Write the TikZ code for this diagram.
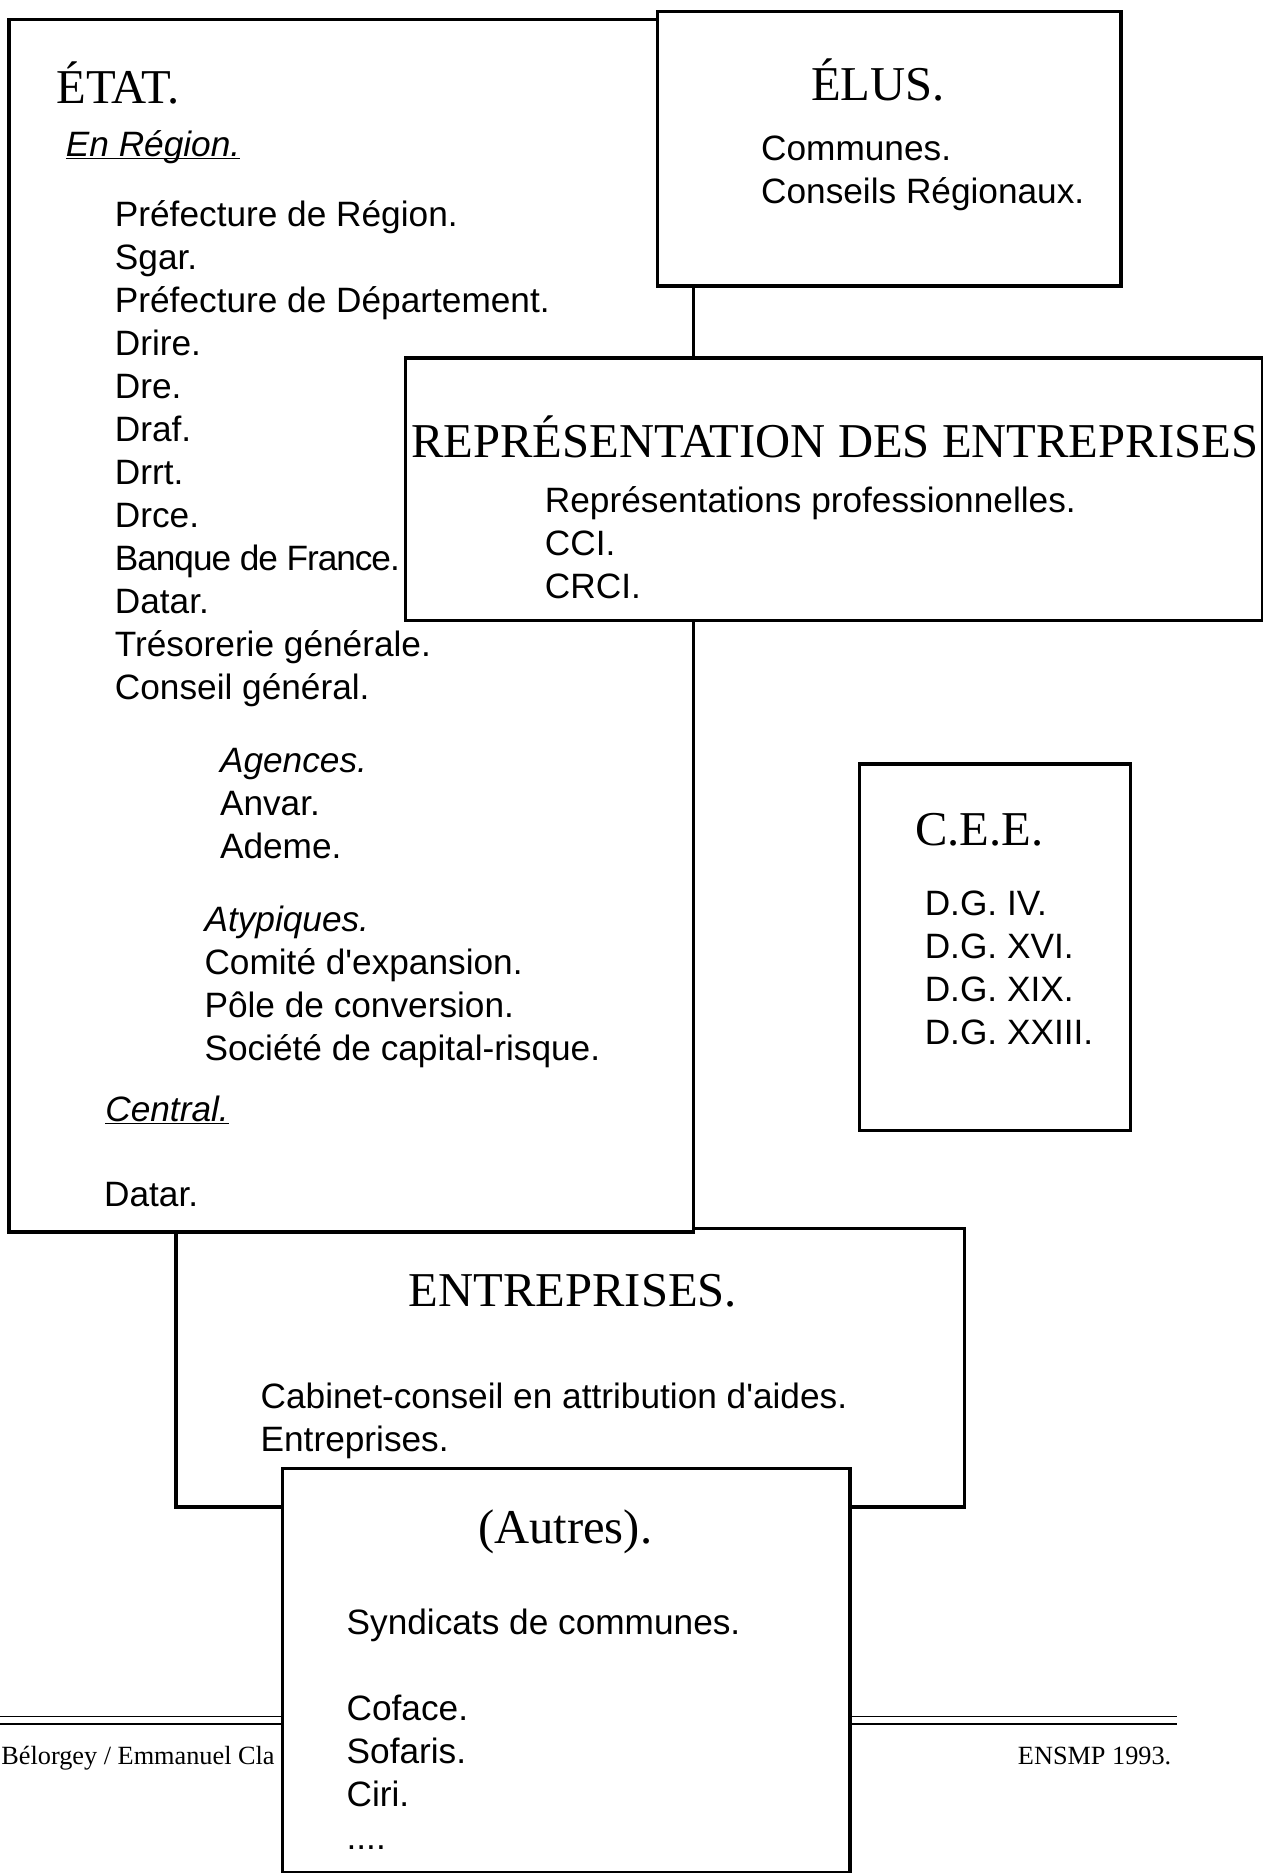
\documentclass[tikz,border=0pt]{standalone}
\usepackage{fontspec}
\setmainfont{Liberation Serif}
\setsansfont{Liberation Sans}[Ligatures=TeXOff]
\newcommand{\titrefont}{\rmfamily\fontsize{40.7}{48}\selectfont}
\newcommand{\listefont}{\sffamily\fontsize{29.5}{36}\selectfont}
\newcommand{\piedfont}{\rmfamily\fontsize{22}{26}\selectfont}
\newcommand{\souligne}[1]{\underline{\smash{#1}}}
\newcommand{\serre}[1]{{\addfontfeature{LetterSpace=-3}#1}}
\tikzset{
    cadre/.style = {rectangle, draw=black, line width=3pt, fill=white,
        anchor=north west, inner sep=0pt},
    titre/.style = {anchor=base west, inner sep=0pt, font=\titrefont},
    % listes : placees par la ligne de base de leur derniere ligne
    liste/.style = {anchor=base west, inner sep=0pt, align=left, font=\listefont},
    pied/.style = {anchor=base west, inner sep=0pt, font=\piedfont},
    filet/.style = {line width=1.5pt, draw=black}
}

\begin{document}
\begin{tikzpicture}[x=1pt, y=-1pt]
\useasboundingbox (0,0) rectangle (1057,1568);
% Pied de page
\coordinate (filetg) at (0,1437);
\coordinate (filetd) at (985,1437);
\draw[filet] (filetg) -- (filetd);
\draw[filet] ([yshift=-6pt]filetg) -- ([yshift=-6pt]filetd);
\node[pied] (auteurs) at (1,1477) {Bélorgey / Emmanuel Cla};
\node[pied] (ensmp) at (852,1477) {ENSMP 1993.};
% Entreprises
\node[cadre, minimum width=660pt, minimum height=233pt] (entr) at (146,1027) {};
\node[titre] (entrtitre) at (342,1094) {ENTREPRISES.};
\node[liste] (entrliste) at (218,1215) {Cabinet-conseil en attribution d'aides.\\Entreprises.};
% Etat
\node[cadre, minimum width=573pt, minimum height=1015pt] (etat) at (6,15) {};
\node[titre] (etattitre) at (47,87) {ÉTAT.};
\node[liste] (enregion) at (55,131) {\souligne{\itshape En Région.}};
\node[liste] (regional) at (96,586) {Préfecture de Région.\\Sgar.\\Préfecture de Département.\\
Drire.\\Dre.\\Draf.\\Drrt.\\Drce.\\\serre{Banque de France.}\\Datar.\\Trésorerie générale.\\Conseil général.};
\node[liste] (agences) at (184,719) {\textit{Agences.}\\Anvar.\\Ademe.};
\node[liste] (atypiques) at (171,888) {\textit{Atypiques.}\\Comité d'expansion.\\Pôle de conversion.\\
Société de capital-risque.};
\node[liste] (central) at (88,939) {\souligne{\itshape Central.}};
\node[liste] (datar) at (87,1010) {Datar.};
% Elus
\node[cadre, minimum width=388pt, minimum height=230pt] (elus) at (549,8) {};
\node[titre, anchor=base] (elustitre) at (735,84) {ÉLUS.};
\node[liste] (elusliste) at (637,170) {Communes.\\Conseils Régionaux.};
% Representation des entreprises
\node[cadre, minimum width=718pt, minimum height=220pt] (repr) at (338,298) {};
\node[titre] (reprtitre) at (344,383) {REPRÉSENTATION DES ENTREPRISES};
\node[liste] (reprliste) at (456,501) {Représentations professionnelles.\\CCI.\\CRCI.};
% CEE
\node[cadre, minimum width=227pt, minimum height=307pt] (cee) at (718,638) {};
\node[titre] (ceetitre) at (766,708) {C.E.E.};
\node[liste] (ceeliste) at (774,874) {D.G. IV.\\D.G. XVI.\\D.G. XIX.\\D.G. XXIII.};
% Autres
\node[cadre, minimum width=475pt, minimum height=338pt] (autres) at (235,1228) {};
\node[titre] (autrestitre) at (400,1292) {(Autres).};
\node[liste] (autresliste) at (290,1548) {Syndicats de communes.\\[36pt]Coface.\\Sofaris.\\Ciri.\\....};
\end{tikzpicture}
\end{document}
